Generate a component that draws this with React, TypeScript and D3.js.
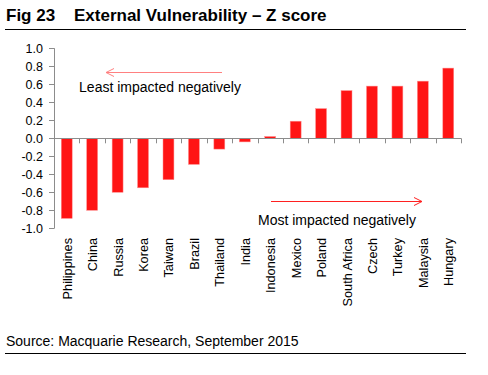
import React from "react";
import * as d3 from "d3";

const categories = ["Philippines","China","Russia","Korea","Taiwan","Brazil","Thailand","India","Indonesia","Mexico","Poland","South Africa","Czech","Turkey","Malaysia","Hungary"];
const values = [-0.89,-0.80,-0.60,-0.55,-0.46,-0.29,-0.12,-0.04,0.02,0.19,0.33,0.53,0.58,0.58,0.635,0.78];
const yTicks = [1.0,0.8,0.6,0.4,0.2,0.0,-0.2,-0.4,-0.6,-0.8,-1.0];

export default function App() {
  const W = 488, H = 375;
  const x = d3.scaleBand<string>().domain(categories).range([54, 461]).paddingInner(0.57).paddingOuter(0.285);
  const xb = d3.scaleBand<string>().domain(categories).range([54, 461]);
  const y = d3.scaleLinear().domain([-1, 1]).range([228.3, 48.3]);
  const font = "'Liberation Sans', Arial, sans-serif";
  const axisColor = "#8c8c8c";
  return (
    <svg width={W} height={H} style={{ position: "absolute", left: 0, top: 0, background: "#fff" }} fontFamily={font}>
      <defs>
        <marker id="a1" markerWidth="10" markerHeight="10" refX="1" refY="5" orient="auto" markerUnits="userSpaceOnUse">
          <path d="M9,1 L1,5 L9,9" fill="none" stroke="#ff8080" strokeWidth="1" />
        </marker>
        <marker id="a2" markerWidth="10" markerHeight="10" refX="9" refY="5" orient="auto" markerUnits="userSpaceOnUse">
          <path d="M1,1 L9,5 L1,9" fill="none" stroke="#ff2020" strokeWidth="1" />
        </marker>
      </defs>
      <text x={6} y={21} fontSize={17} fontWeight="bold" fill="#000">Fig 23</text>
      <text x={74} y={21} fontSize={17} fontWeight="bold" fill="#000">External Vulnerability – Z score</text>
      <line x1={5} x2={466} y1={29.5} y2={29.5} stroke="#000" strokeWidth={1} />

      {values.map((v, i) => (
        <rect key={categories[i]} x={x(categories[i])} width={x.bandwidth()} y={y(Math.max(0, v))} height={Math.abs(y(v) - y(0))} fill="#ff1414" stroke="#ff9090" strokeWidth={0.5} />
      ))}

      <line x1={54.5} x2={54.5} y1={y(1)} y2={y(-1)} stroke={axisColor} />
      {yTicks.map(t => (
        <g key={t}>
          <line x1={49} x2={54.5} y1={Math.round(y(t)) + 0.5} y2={Math.round(y(t)) + 0.5} stroke={axisColor} />
          <text x={43} y={y(t) + 4.5} fontSize={12.5} textAnchor="end" fill="#000">{t.toFixed(1)}</text>
        </g>
      ))}
      <line x1={54} x2={461} y1={Math.round(y(0)) + 0.5} y2={Math.round(y(0)) + 0.5} stroke={axisColor} />
      {categories.map(c => (
        <line key={c} x1={Math.round((xb(c) as number) + xb.bandwidth()) + 0.5} x2={Math.round((xb(c) as number) + xb.bandwidth()) + 0.5} y1={y(0)} y2={y(0) + 5} stroke={axisColor} />
      ))}
      {categories.map(c => {
        const cx = (xb(c) as number) + xb.bandwidth() / 2 + 5;
        return (
          <text key={c} transform={`translate(${cx},238) rotate(-90)`} fontSize={12.7} textAnchor="end" fill="#000">{c}</text>
        );
      })}

      <line x1={106} x2={222} y1={72.5} y2={72.5} stroke="#ff8080" strokeWidth={1} markerStart="url(#a1)" />
      <text x={160} y={92} fontSize={14} textAnchor="middle" fill="#000">Least impacted negatively</text>
      <line x1={271} x2={422} y1={201.5} y2={201.5} stroke="#ff2020" strokeWidth={1} markerEnd="url(#a2)" />
      <text x={337} y={224.5} fontSize={14} textAnchor="middle" fill="#000">Most impacted negatively</text>

      <text x={6} y={346} fontSize={14} fill="#000">Source: Macquarie Research, September 2015</text>
      <line x1={5} x2={466} y1={353.5} y2={353.5} stroke="#000" strokeWidth={1} />
    </svg>
  );
}
